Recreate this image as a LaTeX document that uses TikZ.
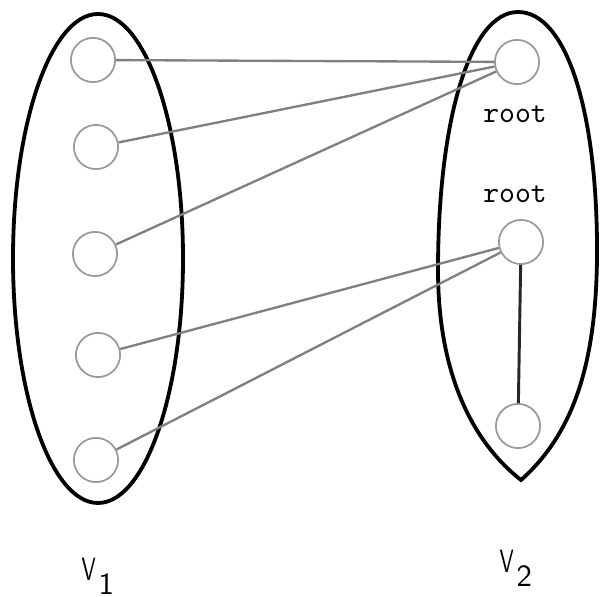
\documentclass[tikz,border=0pt]{standalone}
\usepackage{tikz}
\usetikzlibrary{positioning}
\usepackage{graphicx}
\usepackage{xcolor}
\definecolor{vgray}{HTML}{9A9A9A}
\definecolor{lgray}{HTML}{808080}

\newcommand{\vsetname}[1]{\scalebox{0.68}[1]{V}\kern1pt\raisebox{-4.8pt}{\fontsize{10.5}{12}\selectfont#1}}

\begin{document}
\begin{tikzpicture}[
  x=0.012cm, y=-0.012cm,
  vtx/.style={circle, draw=vgray, line width=0.6pt, minimum size=0.53cm, inner sep=0pt},
  link/.style={draw=lgray, line width=0.8pt},
  tree/.style={draw=black!85, line width=1pt},
  blob/.style={draw=black, line width=1.3pt},
  lbl/.style={font=\ttfamily\fontsize{10.3}{12}\selectfont, inner sep=0pt, anchor=base},
  setlbl/.style={font=\sffamily\fontsize{11}{12}\selectfont, inner sep=0pt, anchor=base west}
]
\useasboundingbox (0,0) rectangle (600,597);

% the two vertex sets
\draw[blob] (98,258.5) ellipse [x radius=85, y radius=244.5];
\draw[blob] (518,12) .. controls (566,12) and (597,110) .. (597,250)
  .. controls (597,360) and (575,432) .. (521,480)
  .. controls (470,440) and (438,370) .. (438,270)
  .. controls (438,120) and (470,12) .. (518,12);

% vertices of V1
\node[vtx] (a1) at (93,60) {};
\node[vtx] (a2) at (96,147) {};
\node[vtx] (a3) at (95,254) {};
\node[vtx] (a4) at (98,355) {};
\node[vtx] (a5) at (96,460) {};

% vertices of V2
\node[vtx] (b1) at (517,62) {};
\node[vtx] (b2) at (521,242) {};
\node[vtx] (b3) at (518,426) {};

\node[lbl] (r1) at (515,123) {root};
\node[lbl] (r2) at (515,203) {root};

% edges
\draw[link] (a1) -- (b1);
\draw[link] (a2) -- (b1);
\draw[link] (a3) -- (b1);
\draw[link] (a4) -- (b2);
\draw[link] (a5) -- (b2);
\draw[tree] (b2) -- (b3);

\node[setlbl] (v1) at (81,580) {\vsetname{1}};
\node[setlbl] (v2) at (499,572) {\vsetname{2}};
\end{tikzpicture}
\end{document}
